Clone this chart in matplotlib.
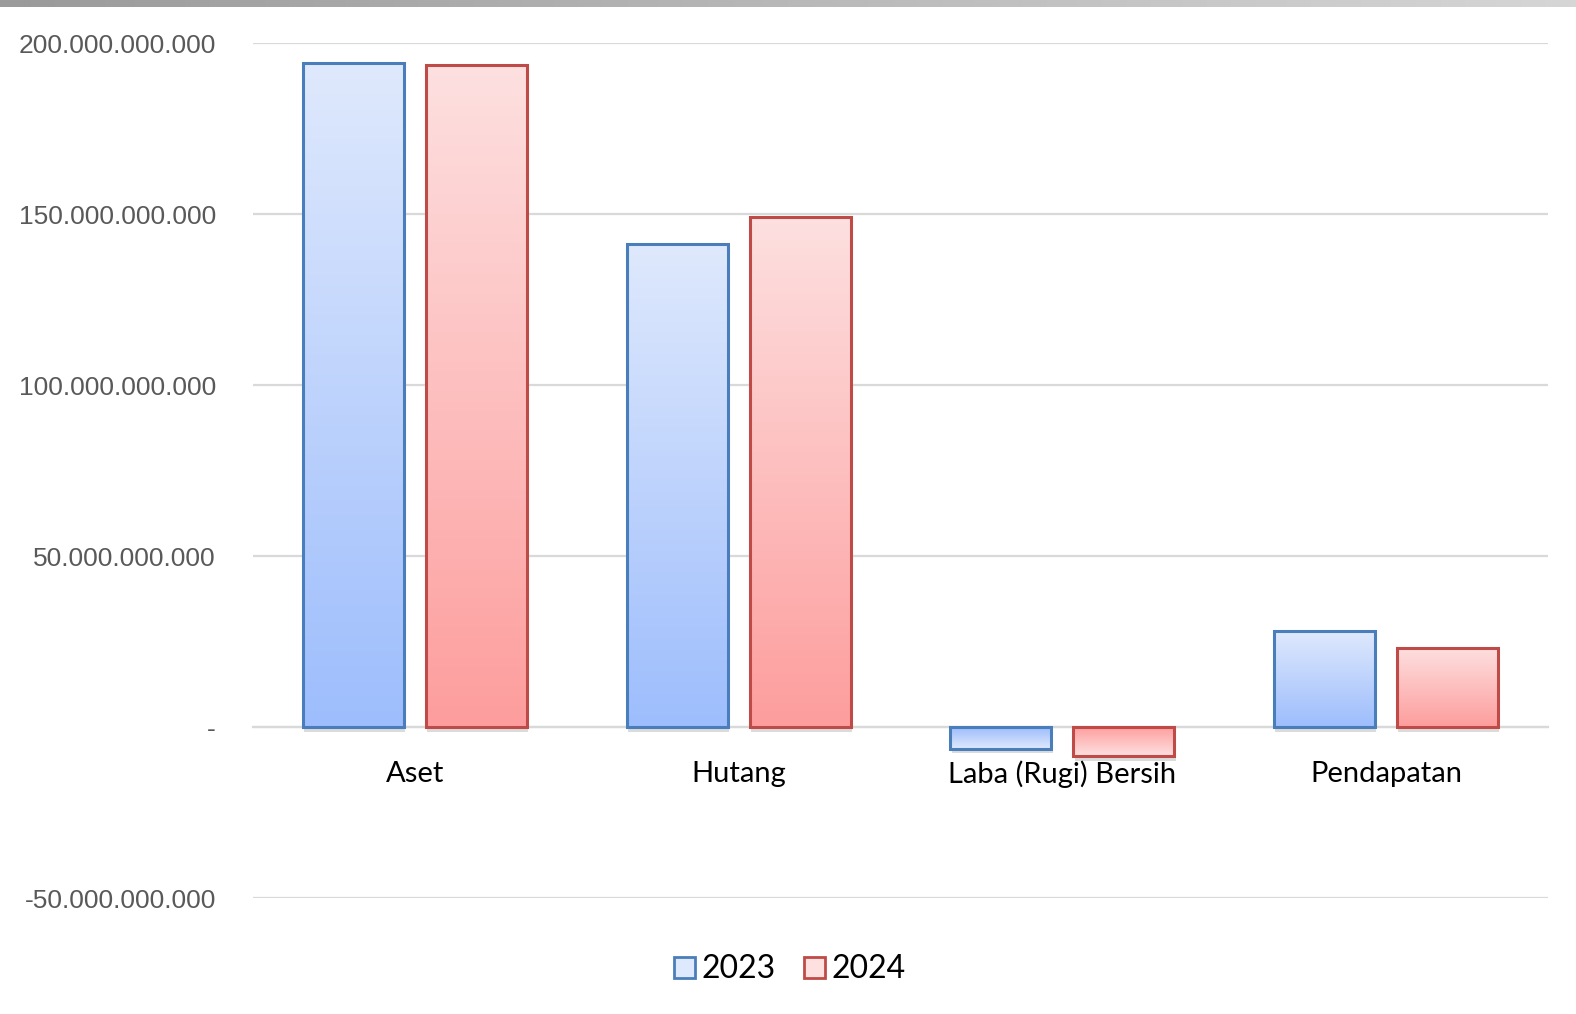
import matplotlib.pyplot as plt
import numpy as np
from matplotlib.colors import LinearSegmentedColormap
from matplotlib.patches import Patch
from matplotlib.ticker import FuncFormatter
import matplotlib.patheffects as pe

categories = ["Aset", "Hutang", "Laba (Rugi) Bersih", "Pendapatan"]
years = ["2023", "2024"]
values_2023 = [194.1e9, 141.2e9, -6.2e9, 28.2e9]
values_2024 = [193.5e9, 149.1e9, -8.5e9, 23.2e9]
y_ticks = [-50e9, 0, 50e9, 100e9, 150e9, 200e9]

# colours: light end, dark end, edge
blue = ("#dfe9fd", "#9dbdfc", "#4a7ebb")
red = ("#fee0e0", "#fd9d9d", "#be4b48")


#formatter like the excel accounting format
def rupiah(value, pos):
    if value == 0:
        return "-"
    text = f"{abs(value):,.0f}".replace(",", ".")
    return "-" + text if value < 0 else text


def gradient_bar(ax, x, width, value, colours):
    light, dark, edge = colours
    cmap = LinearSegmentedColormap.from_list("bar", [dark, light])
    bar = ax.bar(
        x, value, width,
        facecolor=light, edgecolor="none", zorder=2
    )[0]
    bar.set_path_effects([
        pe.SimplePatchShadow(offset=(1, -3.5), shadow_rgbFace="#888888", alpha=0.3),
        pe.Normal()
    ])
    # gradient goes from dark at the zero line to light at the value end
    grad = np.linspace(0, 1, 256).reshape(-1, 1)
    low, high = sorted([0, value])
    if value < 0:
        grad = grad[::-1]
    ax.imshow(
        grad,
        extent=[x - width / 2, x + width / 2, low, high],
        origin="lower",
        aspect="auto",
        cmap=cmap,
        zorder=2.5
    )
    ax.bar(
        x, value, width,
        fill=False, edgecolor=edge, linewidth=2.2, zorder=3
    )


fig = plt.figure(figsize=(15.76, 10.14), dpi=100)
ax = fig.add_axes([0.1607, 0.114, 0.8214, 0.8434])

positions = np.arange(len(categories))
width = 0.312
offset = 0.19

for i in range(len(categories)):
    gradient_bar(ax, positions[i] - offset, width, values_2023[i], blue)
    gradient_bar(ax, positions[i] + offset, width, values_2024[i], red)

ax.set_xlim(-0.5, len(categories) - 0.5)
ax.set_ylim(-50e9, 200e9)

ax.set_yticks(y_ticks)
ax.yaxis.set_major_formatter(FuncFormatter(rupiah))
ax.grid(axis="y", color="#d9d9d9", linewidth=1.6, zorder=0)
ax.set_axisbelow(True)

for spine in ["left", "right", "top"]:
    ax.spines[spine].set_visible(False)
ax.spines["bottom"].set_position(("data", 0))
ax.spines["bottom"].set_color("#d9d9d9")
ax.spines["bottom"].set_linewidth(1.6)
ax.spines["bottom"].set_zorder(1)

ax.set_xticks(positions)
ax.set_xticklabels(categories, fontfamily="Lato", fontsize=21, color="black")
ax.tick_params(axis="x", length=0, pad=24)
ax.tick_params(axis="y", length=0, pad=27, labelsize=19, labelcolor="#595959")
for label in ax.get_yticklabels():
    label.set_fontfamily("Liberation Sans")

handles = [
    Patch(facecolor=blue[0], edgecolor=blue[2], linewidth=2, label=years[0]),
    Patch(facecolor=red[0], edgecolor=red[2], linewidth=2, label=years[1])
]
fig.legend(
    handles=handles,
    loc="center",
    bbox_to_anchor=(0.5013, 0.044),
    ncol=2,
    frameon=False,
    prop={"family": "Lato", "size": 23},
    handlelength=0.65,
    handleheight=0.65,
    handletextpad=0.2,
    columnspacing=0.9
)

# grey strip along the top edge
strip = fig.add_axes([0, 1 - 7 / 1014, 1, 7 / 1014])
strip.imshow(
    np.linspace(0, 1, 256).reshape(1, -1),
    cmap=LinearSegmentedColormap.from_list("strip", ["#9a9a9a", "#d6d6d6"]),
    aspect="auto"
)
strip.axis("off")

plt.savefig("out.png", dpi=100)
